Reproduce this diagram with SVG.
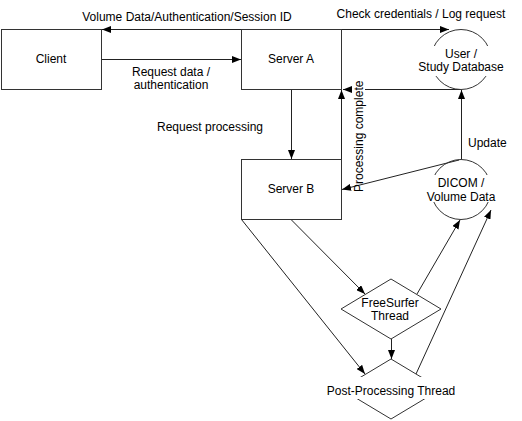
<svg xmlns="http://www.w3.org/2000/svg" width="522" height="421" viewBox="0 0 522 421">
<defs>
<style>
text{font-family:"Liberation Sans",Arial,sans-serif;font-size:12px;fill:#000}
.c{text-anchor:middle}
.box{fill:#fff;stroke:#333;stroke-width:1}
.ln{fill:none;stroke:#222;stroke-width:1;marker-end:url(#ah)}
.bg{fill:#fff;stroke:none}
</style>
<marker id="ah" markerWidth="9" markerHeight="7" refX="9" refY="3.5" orient="auto" markerUnits="userSpaceOnUse">
<path d="M0,0 L9,3.5 L0,7 z" fill="#000"/>
</marker>
</defs>
<rect width="522" height="421" fill="#fff"/>
<g id="connectors">
<path class="ln" d="M241,29.5 H102"/>
<path class="ln" d="M101.5,59.5 H241"/>
<path class="ln" d="M341,29.5 H449"/>
<path class="ln" d="M291.5,89.5 V159"/>
<path class="ln" d="M341.5,159.5 V90"/>
<path class="ln" d="M461,89.5 H365 M352,89.5 H343"/>
<path class="ln" d="M461.5,159 V90"/>
<path class="ln" d="M459,160 L342,189.5"/>
<path class="ln" d="M291,219.5 L365,294"/>
<path class="ln" d="M241.5,219.5 L365,374"/>
<path class="ln" d="M391.5,339 V359"/>
<path class="ln" d="M417,294 L460,220"/>
<path class="ln" d="M416,374 L491,210"/>
<text class="c" x="187" y="21">Volume Data/Authentication/Session ID</text>
<text class="c" x="171" y="76">Request data /</text>
<text class="c" x="171" y="89">authentication</text>
<text class="c" x="421" y="18">Check credentials / Log request</text>
<text class="c" x="210" y="131">Request processing</text>
<text transform="translate(363,192) rotate(-90)">Processing complete</text>
<text x="468" y="147">Update</text>
</g>
<g id="client">
<rect class="box" x="1.5" y="29.5" width="100" height="60"/>
<text class="c" x="51" y="63">Client</text>
</g>
<g id="serverA">
<rect class="box" x="241.5" y="29.5" width="100" height="60"/>
<text class="c" x="291" y="63">Server A</text>
</g>
<g id="serverB">
<rect class="box" x="241.5" y="159.5" width="100" height="60"/>
<text class="c" x="291" y="193">Server B</text>
</g>
<g id="userdb">
<circle cx="461" cy="59.5" r="30" fill="none" stroke="#333"/>
<rect class="bg" x="417" y="46" width="88" height="30"/>
<text class="c" x="461" y="58">User /</text>
<text class="c" x="461" y="71">Study Database</text>
</g>
<g id="dicom">
<circle cx="461" cy="189.5" r="30" fill="none" stroke="#333"/>
<rect class="bg" x="424" y="175" width="74" height="27"/>
<text class="c" x="461" y="187">DICOM /</text>
<text class="c" x="461" y="201">Volume Data</text>
</g>
<g id="freesurfer">
<polygon points="391,279 441,309 391,339 341,309" fill="none" stroke="#333"/>
<text class="c" x="390" y="307">FreeSurfer</text>
<text class="c" x="390" y="320">Thread</text>
</g>
<g id="postprocessing">
<polygon points="391,359 441,389 391,419 341,389" fill="none" stroke="#333"/>
<rect class="bg" x="325" y="377" width="132" height="22"/>
<text class="c" x="391" y="395">Post-Processing Thread</text>
</g>
</svg>
